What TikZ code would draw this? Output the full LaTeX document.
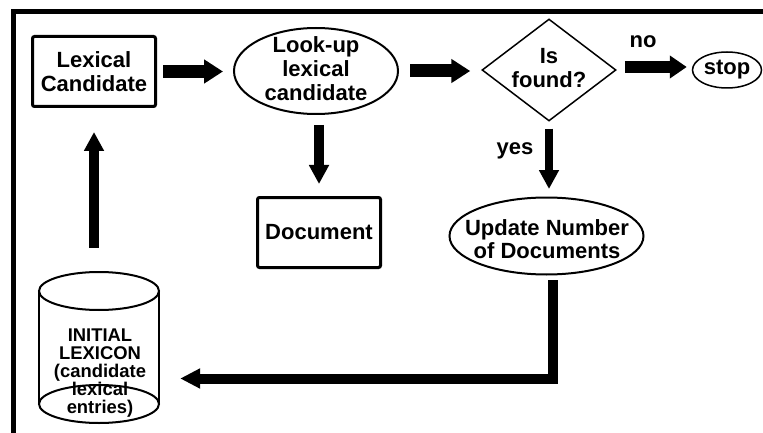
\documentclass[tikz,border=0pt]{standalone}
\usepackage{fontspec}
\setmainfont{Liberation Sans}
\usetikzlibrary{arrows.meta,shapes.geometric}
\begin{document}
\begin{tikzpicture}[x=1pt,y=-1pt,
  txt/.style={font=\fontsize{22}{24}\selectfont\bfseries, align=center, inner sep=0pt},
  small/.style={font=\fontsize{18.4}{18}\selectfont\bfseries, align=center, inner sep=0pt},
  boxnode/.style={draw, line width=3pt, rounded corners=2pt, minimum width=123pt, minimum height=70pt, inner sep=0pt},
  ellnode/.style={draw, ellipse, line width=2pt, inner sep=0pt},
  fatarrow/.style={line width=13pt, -{Triangle[length=19pt,width=23pt]}},
  slimarrow/.style={line width=9.5pt, -{Triangle[length=19pt,width=19pt]}},
]
\fill[white] (0,0) rectangle (763,433);
\useasboundingbox (0,0) rectangle (763,433);

% frame
\draw[line width=5pt, line join=miter] (763,11.5) -- (13,11.5) -- (13,433);

% process nodes
\node[boxnode, txt] (cand) at (94,71.5) {Lexical\\Candidate};
\node[ellnode, minimum width=164pt, minimum height=86pt] (look) at (316,71) {};
\node[txt] (lookT) at (316,69) {Look-up\\lexical\\candidate};
\node[boxnode, txt] (doc) at (319,232.5) {Document};
\node[draw, diamond, line width=1.5pt, minimum width=134pt, minimum height=102pt, inner sep=0pt] (dia) at (549,70) {};
\node[txt] (diaT) at (549,68.5) {Is\\found?};
\node[ellnode, line width=1.5pt, minimum width=69pt, minimum height=36pt, font=\fontsize{22}{24}\selectfont\bfseries] (stop) at (727,70) {stop};
\node[ellnode, minimum width=194pt, minimum height=77pt] (upd) at (546.5,236) {};
\node[txt, font=\fontsize{22}{22.5}\selectfont\bfseries] (updT) at (547,239) {Update Number\\of Documents};

% lexicon store (cylinder)
\node[minimum width=122pt, minimum height=151pt, inner sep=0pt] (lex) at (99,347.5) {};
\node[small] (lexT) at (100,373) {INITIAL\\LEXICON\\(candidate\\lexical\\entries)};
\draw[line width=2pt] (99,291) ellipse [x radius=60pt, y radius=19pt];
\draw[line width=2pt] (39,291) -- (39,404) (159,291) -- (159,404);
\draw[line width=2pt] (99,404) ellipse [x radius=60pt, y radius=19pt];

% branch labels
\node[txt] (no) at (643,41.5) {no};
\node[txt] (yes) at (515,151) {yes};

% connectors
\draw[fatarrow, shorten <=6pt, shorten >=10pt] (cand.east) -- (cand.east -| look.west);
\draw[slimarrow, shorten <=10pt, shorten >=12pt] (look.south -| doc.north) -- (doc.north);
\draw[fatarrow, shorten <=11pt, shorten >=11pt] (look.east) -- (look.east -| dia.west);
\draw[line width=12pt, -{Triangle[length=17pt,width=22pt]}, shorten <=8pt, shorten >=5pt] ([yshift=3pt]dia.east) -- ([yshift=3pt]dia.east -| stop.west);
\draw[line width=8.5pt, -{Triangle[length=19pt,width=19pt]}, shorten <=7pt, shorten >=7.5pt] (dia.south) -- (dia.south |- upd.north);
\coordinate (turn) at (552.5,378.5);
\draw[line width=10pt, -{Triangle[length=20pt,width=19pt]}, line join=miter, shorten <=4.5pt, shorten >=20pt] (upd.south -| turn) -- (turn) -- (turn -| lex.east);
\draw[slimarrow, shorten <=24pt, shorten >=24pt] (lex.north -| cand.south) -- (cand.south);
\end{tikzpicture}
\end{document}
